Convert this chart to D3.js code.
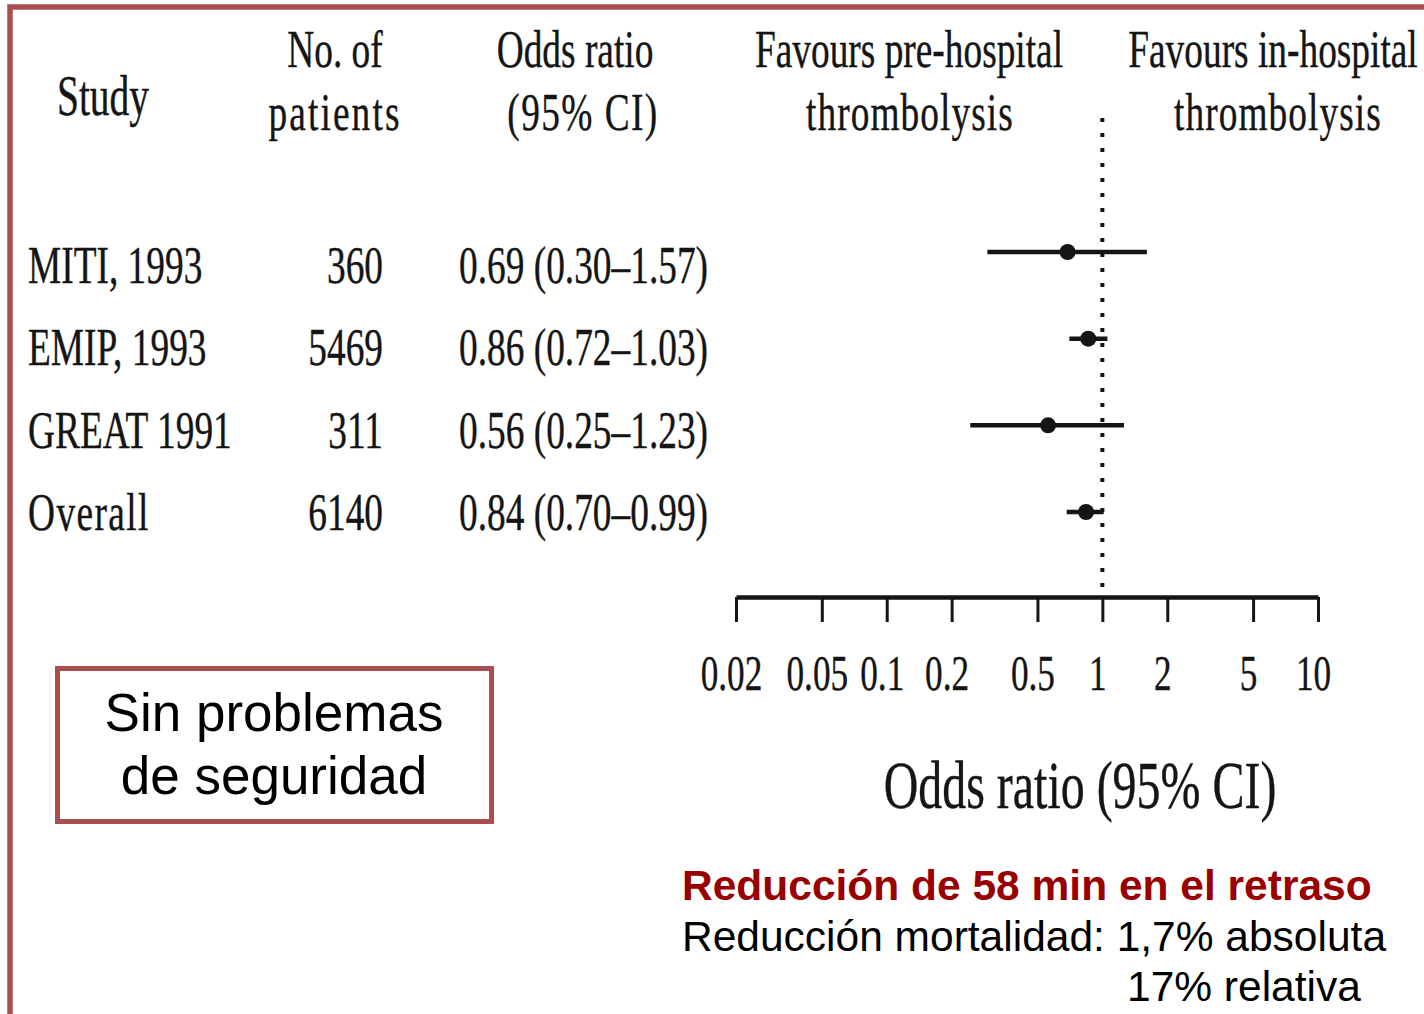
<!DOCTYPE html>
<html>
<head>
<meta charset="utf-8">
<script src="https://cdn.jsdelivr.net/npm/d3@7"></script>
<style>
  html, body { margin: 0; padding: 0; background: #ffffff; }
  svg { display: block; }
</style>
</head>
<body>
<svg id="chart" width="1424" height="1014"></svg>
<script>
// ---------------- data ----------------
const studies   = ["MITI, 1993", "EMIP, 1993", "GREAT 1991", "Overall"];
const patients  = [360, 5469, 311, 6140];
const oddsRatio = [0.69, 0.86, 0.56, 0.84];
const ciLow     = [0.30, 0.72, 0.25, 0.70];
const ciHigh    = [1.57, 1.03, 1.23, 0.99];
const tickValues = [0.02, 0.05, 0.1, 0.2, 0.5, 1, 2, 5, 10];
const tickLabels = ["0.02", "0.05", "0.1", "0.2", "0.5", "1", "2", "5", "10"];
const headerStudy = "Study";
const headerPatients = ["No. of", "patients"];
const headerOR = ["Odds ratio", "(95% CI)"];
const favoursLeft = ["Favours pre-hospital", "thrombolysis"];
const favoursRight = ["Favours in-hospital", "thrombolysis"];
const axisTitle = "Odds ratio (95% CI)";
const boxLines = ["Sin problemas", "de seguridad"];
const noteTitle = "Reducción de 58 min en el retraso";
const noteLines = ["Reducción mortalidad: 1,7% absoluta", "17% relativa"];

// ---------------- setup ----------------
const svg = d3.select("#chart");
const SERIF = "'Liberation Serif', 'Times New Roman', Times, serif";
const SANS = "'Liberation Sans', Arial, Helvetica, sans-serif";
const INK = "#151515";
const FRAME = "#A94F4F";
const SX = 0.705;

svg.append("rect").attr("width", 1424).attr("height", 1014).attr("fill", "#fff");

// frame (left and top)
svg.append("path")
  .attr("d", "M10 1014 V7 H1424")
  .attr("fill", "none")
  .attr("stroke", FRAME)
  .attr("stroke-width", 5.5);

function stext(str, x, y, size, anchor, opts = {}) {
  const t = svg.append("text")
    .attr("transform", `translate(${x},${y}) scale(${opts.sx ?? SX},1)`)
    .attr("text-anchor", anchor)
    .attr("font-family", opts.family ?? SERIF)
    .attr("font-size", size)
    .attr("fill", opts.fill ?? INK)
    .text(str);
  if (opts.ls) t.attr("letter-spacing", opts.ls);
  if (opts.weight) t.attr("font-weight", opts.weight);
  if (opts.stroke) t.attr("stroke", opts.fill ?? INK).attr("stroke-width", opts.stroke);
  return t;
}

// ---------------- scales ----------------
const x = d3.scaleLog().domain([0.02, 10]).range([736, 1318]);
const yMark = d3.scalePoint().domain(studies).range([252, 512]);
const yText = d3.scalePoint().domain(studies).range([283, 530]);

// ---------------- headers ----------------
stext(headerStudy, 103, 115, 56, "middle", { stroke: 0.4 });
stext(headerPatients[0], 335, 67, 53, "middle", { stroke: 0.4 });
stext(headerPatients[1], 335, 130, 53, "middle", { ls: 3, stroke: 0.4 });
stext(headerOR[0], 575, 67, 53, "middle", { stroke: 0.4 });
stext(headerOR[1], 583, 130, 53, "middle", { ls: 2, stroke: 0.4 });
stext(favoursLeft[0], 909, 67, 53, "middle", { stroke: 0.4 });
stext(favoursLeft[1], 910, 130, 53, "middle", { ls: 1.5, stroke: 0.4 });
stext(favoursRight[0], 1273, 67, 53, "middle", { stroke: 0.4 });
stext(favoursRight[1], 1278, 130, 53, "middle", { ls: 1.5, stroke: 0.4 });

// ---------------- table rows ----------------
studies.forEach((s, i) => {
  const y = yText(s);
  stext(s, 28, y, 53, "start", { stroke: 0.4, ls: s === "Overall" ? 2 : null });
  stext(String(patients[i]), 383, y, 53, "end", { stroke: 0.4 });
  stext(`${oddsRatio[i].toFixed(2)} (${ciLow[i].toFixed(2)}–${ciHigh[i].toFixed(2)})`, 459, y, 53, "start", { stroke: 0.4 });
});

// ---------------- reference line ----------------
svg.append("line")
  .attr("x1", x(1)).attr("x2", x(1))
  .attr("y1", 118).attr("y2", 592)
  .attr("stroke", INK)
  .attr("stroke-width", 4)
  .attr("stroke-dasharray", "4 11");

// ---------------- CIs and points ----------------
const rows = svg.append("g");
rows.selectAll("line.ci")
  .data(studies)
  .join("line")
  .attr("class", "ci")
  .attr("x1", (d, i) => x(ciLow[i]))
  .attr("x2", (d, i) => x(ciHigh[i]))
  .attr("y1", d => yMark(d))
  .attr("y2", d => yMark(d))
  .attr("stroke", INK)
  .attr("stroke-width", 4.5)
  .attr("stroke-linecap", "square");
rows.selectAll("circle.pt")
  .data(studies)
  .join("circle")
  .attr("class", "pt")
  .attr("cx", (d, i) => x(oddsRatio[i]))
  .attr("cy", d => yMark(d))
  .attr("r", 8)
  .attr("fill", INK);

// ---------------- axis ----------------
const axisY = 597;
const axis = d3.axisBottom(x)
  .tickValues(tickValues)
  .tickFormat((d, i) => tickLabels[i])
  .tickSizeInner(25)
  .tickSizeOuter(0);
const ag = svg.append("g").attr("transform", `translate(0,${axisY})`).call(axis);
ag.select(".domain").attr("stroke", INK).attr("stroke-width", 4.5);
ag.selectAll(".tick line").attr("stroke", INK).attr("stroke-width", 3);
ag.selectAll(".tick text")
  .attr("y", 0).attr("dy", 0)
  .attr("transform", `translate(-5,93) scale(${SX},1)`)
  .attr("font-family", SERIF)
  .attr("font-size", 50)
  .attr("fill", INK)
  .attr("stroke", INK)
  .attr("stroke-width", 0.4);
ag.attr("font-family", null).attr("font-size", null);

stext(axisTitle, 1080, 808, 68, "middle", { stroke: 0.4 });

// ---------------- safety box ----------------
svg.append("rect")
  .attr("x", 57.5).attr("y", 668.5)
  .attr("width", 434).attr("height", 153)
  .attr("fill", "none")
  .attr("stroke", FRAME)
  .attr("stroke-width", 5);
stext(boxLines[0], 274, 731, 53, "middle", { sx: 1, family: SANS, fill: "#000" });
stext(boxLines[1], 274, 794, 53, "middle", { sx: 1, family: SANS, fill: "#000" });

// ---------------- notes ----------------
stext(noteTitle, 682, 900, 42.5, "start", { sx: 1, family: SANS, fill: "#990000", weight: "bold" });
stext(noteLines[0], 682, 951, 42.5, "start", { sx: 1, family: SANS, fill: "#000" });
stext(noteLines[1], 1127, 1001, 42.5, "start", { sx: 1, family: SANS, fill: "#000" });
</script>
</body>
</html>
